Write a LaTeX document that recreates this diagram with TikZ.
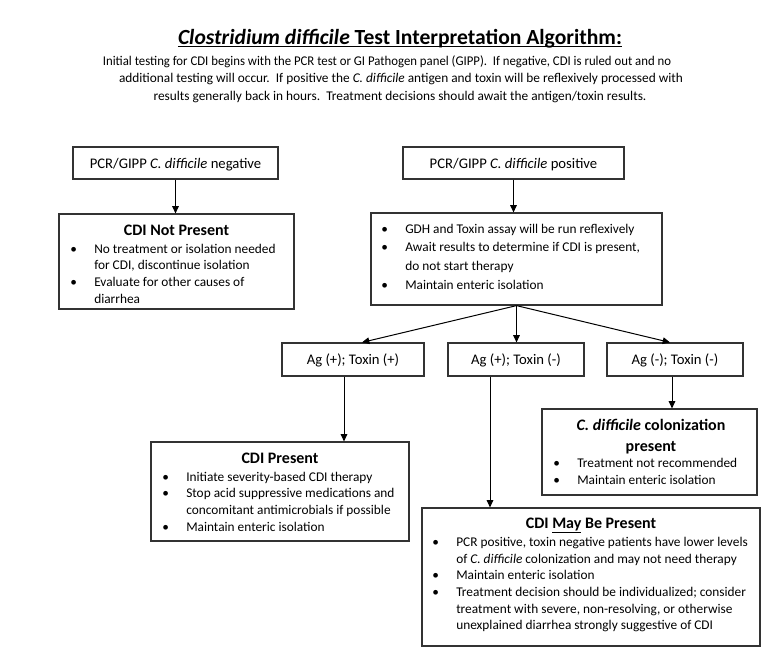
\documentclass[tikz,border=0pt]{standalone}
\usepackage{fontspec}
\usepackage{graphicx}
\setmainfont{Carlito}
\usetikzlibrary{arrows.meta,fit,calc}
\newlength\px \setlength\px{0.75pt}
\newcommand\blist[1]{\begin{tabular}[t]{@{}p{24\px}@{}l@{}}#1\end{tabular}}
% \BOX{name}{x1}{y1}{x2}{y2}{text}
\newcommand\BOX[6]{\node[box, minimum width={(#4-#2)*\px}, minimum height={(#5-#3)*\px}] (#1) at ({(#2+#4)/2},{(#3+#5)/2}) {#6};}
\begin{document}
\begin{tikzpicture}[x=0.75pt,y=-0.75pt,
  box/.style={draw=black!80, line width=0.9pt, inner sep=0pt, text height=9.8pt, text depth=2pt, font=\fontsize{11pt}{13pt}\selectfont},
  arr/.style={-{Triangle[length=5.5pt,width=5pt]}, line width=0.75pt},
  body/.style={font=\fontsize{10pt}{12.5pt}\selectfont, inner sep=0pt, anchor=base west},
  bodywide/.style={font=\fontsize{10pt}{14pt}\selectfont, inner sep=0pt, anchor=base west},
  bodycol/.style={font=\fontsize{10pt}{13.1pt}\selectfont, inner sep=0pt, anchor=base west},
  btitle/.style={font=\fontsize{12pt}{14.5pt}\selectfont\bfseries, inner sep=0pt, anchor=base},
  intro/.style={font=\fontsize{10pt}{13pt}\selectfont, inner sep=0pt, anchor=base}]
\useasboundingbox (0,0) rectangle (774,654);
% heading
\node[font=\fontsize{16.2pt}{19pt}\selectfont\bfseries, anchor=base, inner sep=0pt] (title) at (400,44) {\textit{Clostridium difficile} Test Interpretation Algorithm:};
\draw[line width=1pt] ($(title.base west)+(0,2.5)$) -- ($(title.base east)+(0,2.5)$);
\node[intro] (intro1) at (387,65) {\scalebox{0.958}[1]{Initial testing for CDI begins with the PCR test or GI Pathogen panel (GIPP).\ \ If negative, CDI is ruled out and no}};
\node[intro] (intro2) at (401,82.5) {additional testing will occur.\ \ If positive the \textit{C. difficile} antigen and toxin will be reflexively processed with};
\node[intro] (intro3) at (400,100) {results generally back in hours.\ \ Treatment decisions should await the antigen/toxin results.};
% boxes
\BOX{neg}{73}{147}{278}{179}{PCR/GIPP \textit{C. difficile} negative}
\BOX{pos}{403}{147}{624}{179}{PCR/GIPP \textit{C. difficile} positive}
\BOX{notp}{59}{214}{294}{309}{}
\BOX{mid}{371}{213}{662}{305}{}
\BOX{agpp}{282}{343}{424}{376}{Ag (+); Toxin (+)}
\BOX{agpm}{448}{343}{584}{376}{Ag (+); Toxin (-)}
\BOX{agmm}{607}{343}{743}{376}{Ag (-); Toxin (-)}
\BOX{cdip}{151}{442}{409}{541}{}
\BOX{col}{542}{409}{757}{495}{}
\BOX{may}{422}{508}{760}{646}{}
% box texts
\node[btitle] (notpt) at (176.5,235) {CDI Not Present};
\node[body] (notpl) at (70,253) {\blist{\textbullet & No treatment or isolation needed\\
 & for CDI, discontinue isolation\\
\textbullet & Evaluate for other causes of\\
 & diarrhea}};
\node[bodywide] (midl) at (381,233) {\blist{\textbullet & GDH and Toxin assay will be run reflexively\\
\textbullet & Await results to determine if CDI is present,\\
 & do not start therapy\\
\textbullet & Maintain enteric isolation}};
\node[btitle] (cdipt) at (280,463) {CDI Present};
\node[body] (cdipl) at (162,481) {\blist{\textbullet & Initiate severity-based CDI therapy\\
\textbullet & Stop acid suppressive medications and\\
 & concomitant antimicrobials if possible\\
\textbullet & Maintain enteric isolation}};
\node[btitle] (colt1) at (651,430) {\textit{C. difficile} colonization};
\node[btitle] (colt2) at (651,451) {present};
\node[bodycol] (coll) at (553,467) {\blist{\textbullet & Treatment not recommended\\
\textbullet & Maintain enteric isolation}};
\node[btitle] (mayt) at (591,528) {CDI \underline{May} Be Present};
\node[body] (mayl) at (432,546.5) {\blist{\textbullet & PCR positive, toxin negative patients have lower levels\\
 & of \textit{C. difficile} colonization and may not need therapy\\
\textbullet & Maintain enteric isolation\\
\textbullet & Treatment decision should be individualized; consider\\
 & treatment with severe, non-resolving, or otherwise\\
 & unexplained diarrhea strongly suggestive of CDI}};
% connectors
\coordinate (e1) at ($(agpp.north)+(9,0)$);
\coordinate (e3) at ($(agmm.north)+(-5,0)$);
\coordinate (s1) at ($(agpp.south)+(-9,0)$);
\coordinate (s2) at ($(agpm.south)+(-26,0)$);
\coordinate (s3) at ($(agmm.south)+(-3,0)$);
\draw[arr] (neg.south) -- (neg.south |- notp.north);
\draw[arr] (pos.south) -- (pos.south |- mid.north);
\draw[arr] (mid.south) -- (e1);
\draw[arr] (mid.south) -- (mid.south |- agpm.north);
\draw[arr] (mid.south) -- (e3);
\draw[arr] (s1) -- (s1 |- cdip.north);
\draw[arr] (s2) -- (s2 |- may.north);
\draw[arr] (s3) -- (s3 |- col.north);
\end{tikzpicture}
\end{document}
